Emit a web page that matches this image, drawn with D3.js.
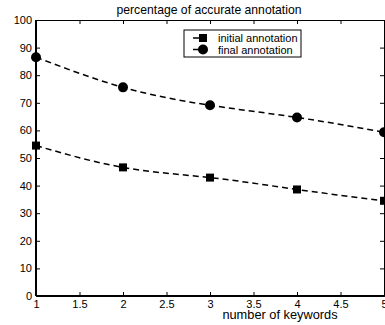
<!DOCTYPE html>
<html>
<head>
<meta charset="utf-8">
<script src="https://cdn.jsdelivr.net/npm/d3@7"></script>
<style>
  body { margin: 0; background: #fff; }
  text { font-family: "Liberation Sans", Arial, sans-serif; fill: #000; }
</style>
</head>
<body>
<div id="chart"></div>
<script>
// Data
const keywords = [1, 2, 3, 4, 5];
const initialAnnotation = [54.5, 46.6, 42.9, 38.6, 34.5];
const finalAnnotation = [86.5, 75.6, 69.1, 64.7, 59.3];
const xTicks = [1, 1.5, 2, 2.5, 3, 3.5, 4, 4.5, 5];
const yTicks = [0, 10, 20, 30, 40, 50, 60, 70, 80, 90, 100];

const width = 385, height = 325;
const margin = { top: 20, right: 1, bottom: 29, left: 36 };
const innerW = width - margin.left - margin.right;
const innerH = height - margin.top - margin.bottom;

const svg = d3.select("#chart").append("svg")
    .attr("width", width)
    .attr("height", height);

const g = svg.append("g")
    .attr("transform", `translate(${margin.left},${margin.top})`);

const xScale = d3.scaleLinear().domain([1, 5]).range([0, innerW]);
const yScale = d3.scaleLinear().domain([0, 100]).range([innerH, 0]);

// Axes, ticks pointing inward like MATLAB
const tickLen = 4;
const xAxis = d3.axisBottom(xScale).tickValues(xTicks).tickSize(-tickLen).tickPadding(4)
    .tickFormat(d3.format("~g"));
const yAxis = d3.axisLeft(yScale).tickValues(yTicks).tickSize(-tickLen).tickPadding(4);

g.append("g").attr("transform", `translate(0,${innerH})`).call(xAxis);
g.append("g").call(yAxis);
g.append("g").call(d3.axisTop(xScale).tickValues(xTicks).tickSize(-tickLen).tickFormat(""));
g.append("g").attr("transform", `translate(${innerW},0)`)
    .call(d3.axisRight(yScale).tickValues(yTicks).tickSize(-tickLen).tickFormat(""));

g.selectAll(".domain").attr("stroke", "#000").attr("stroke-width", 1);
g.selectAll(".tick line").attr("stroke", "#000");
g.selectAll(".tick text").style("font-size", "11px").style("font-family", "Liberation Sans, Arial, sans-serif");

// thicker left and bottom frame
g.append("line").attr("x1", 0).attr("x2", 0).attr("y1", 0).attr("y2", innerH)
    .attr("stroke", "#000").attr("stroke-width", 2);
g.append("line").attr("x1", 0).attr("x2", innerW).attr("y1", innerH).attr("y2", innerH)
    .attr("stroke", "#000").attr("stroke-width", 2);

// Lines
const line = d3.line()
    .x(d => xScale(d.x))
    .y(d => yScale(d.y))
    .curve(d3.curveNatural);

const initialData = keywords.map((k, i) => ({ x: k, y: initialAnnotation[i] }));
const finalData = keywords.map((k, i) => ({ x: k, y: finalAnnotation[i] }));

[initialData, finalData].forEach(data => {
    g.append("path")
        .datum(data)
        .attr("d", line)
        .attr("fill", "none")
        .attr("stroke", "#000")
        .attr("stroke-width", 1.5)
        .attr("stroke-dasharray", "6,4");
});

g.selectAll(".sq")
    .data(initialData)
    .enter()
    .append("rect")
    .attr("x", d => xScale(d.x) - 4)
    .attr("y", d => yScale(d.y) - 4)
    .attr("width", 8)
    .attr("height", 8)
    .attr("fill", "#000");

g.selectAll(".dot")
    .data(finalData)
    .enter()
    .append("circle")
    .attr("cx", d => xScale(d.x))
    .attr("cy", d => yScale(d.y))
    .attr("r", 5)
    .attr("fill", "#000");

// Title and axis label
svg.append("text")
    .attr("x", 209)
    .attr("y", 14)
    .attr("text-anchor", "middle")
    .style("font-size", "12.2px")
    .text("percentage of accurate annotation");

svg.append("text")
    .attr("x", 280)
    .attr("y", 319)
    .attr("text-anchor", "middle")
    .style("font-size", "12.8px")
    .text("number of keywords");

// Legend
const legend = svg.append("g").attr("transform", "translate(184,30)");
legend.append("rect")
    .attr("width", 117).attr("height", 27)
    .attr("fill", "#fff").attr("stroke", "#000").attr("stroke-width", 1);

const entries = [
    { label: "initial annotation", shape: "square" },
    { label: "final annotation", shape: "circle" }
];
entries.forEach((e, i) => {
    const cy = 8 + i * 11.5;
    legend.append("line")
        .attr("x1", 9).attr("x2", 19).attr("y1", cy).attr("y2", cy)
        .attr("stroke", "#000").attr("stroke-width", 1.5);
    if (e.shape === "square") {
        legend.append("rect").attr("x", 15).attr("y", cy - 4).attr("width", 8).attr("height", 8).attr("fill", "#000");
    } else {
        legend.append("circle").attr("cx", 19).attr("cy", cy).attr("r", 5).attr("fill", "#000");
    }
    legend.append("text")
        .attr("x", 34).attr("y", cy + 4)
        .style("font-size", "11px")
        .text(e.label);
});
</script>
</body>
</html>
